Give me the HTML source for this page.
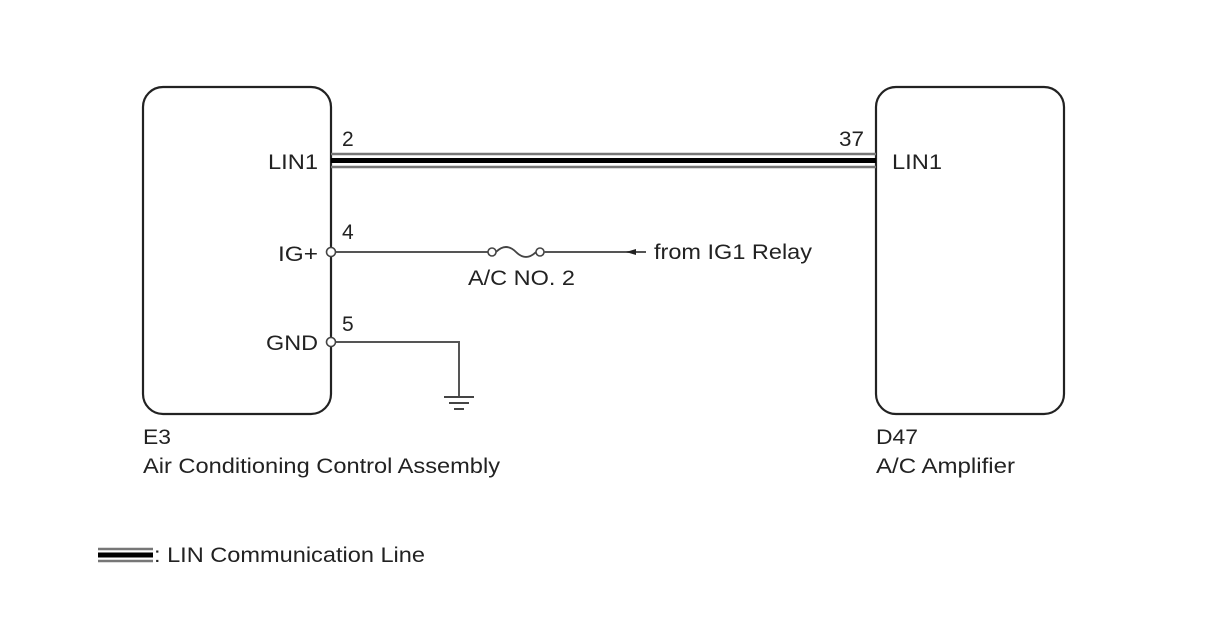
<!DOCTYPE html>
<html><head><meta charset="utf-8"><style>
html,body{margin:0;padding:0;background:#fff;}
svg{display:block;}
text{font-family:"Liberation Sans",Arial,sans-serif;font-size:21px;fill:#222;}
</style></head><body>
<svg width="1208" height="644" viewBox="0 0 1208 644" xmlns="http://www.w3.org/2000/svg">
<rect x="143" y="87" width="188" height="327" rx="20" fill="none" stroke="#222" stroke-width="2.2"/>
<rect x="876" y="87" width="188" height="327" rx="20" fill="none" stroke="#222" stroke-width="2.2"/>
<!-- LIN line -->
<line x1="331" y1="154" x2="876" y2="154" stroke="#777" stroke-width="2.5"/>
<line x1="331" y1="160.5" x2="876" y2="160.5" stroke="#000" stroke-width="5"/>
<line x1="331" y1="167" x2="876" y2="167" stroke="#777" stroke-width="2.5"/>
<text x="342" y="146">2</text>
<text x="839" y="146" textLength="25" lengthAdjust="spacingAndGlyphs">37</text>
<text x="318" y="169" text-anchor="end" textLength="50" lengthAdjust="spacingAndGlyphs">LIN1</text>
<text x="892" y="169" textLength="50" lengthAdjust="spacingAndGlyphs">LIN1</text>
<!-- IG+ -->
<line x1="335" y1="252" x2="488" y2="252" stroke="#555" stroke-width="2"/>
<circle cx="492" cy="252" r="4" fill="#fff" stroke="#444" stroke-width="1.6"/>
<path d="M496 252 Q506 242 516 252 Q526 262 536 252" fill="none" stroke="#444" stroke-width="1.8"/>
<circle cx="540" cy="252" r="4" fill="#fff" stroke="#444" stroke-width="1.6"/>
<line x1="544" y1="252" x2="646" y2="252" stroke="#555" stroke-width="2"/>
<polygon points="626,252 636,249 636,255" fill="#222"/>
<circle cx="331" cy="252" r="4.5" fill="#fff" stroke="#444" stroke-width="1.6"/>
<text x="342" y="239">4</text>
<text x="318" y="261" text-anchor="end" textLength="40" lengthAdjust="spacingAndGlyphs">IG+</text>
<text x="468" y="285" textLength="107" lengthAdjust="spacingAndGlyphs">A/C NO. 2</text>
<text x="654" y="259" textLength="158" lengthAdjust="spacingAndGlyphs">from IG1 Relay</text>
<!-- GND -->
<polyline points="335,342 459,342 459,397" fill="none" stroke="#555" stroke-width="2"/>
<line x1="444" y1="397" x2="474" y2="397" stroke="#444" stroke-width="2"/>
<line x1="449" y1="403" x2="469" y2="403" stroke="#444" stroke-width="2"/>
<line x1="454" y1="409" x2="464" y2="409" stroke="#444" stroke-width="2"/>
<circle cx="331" cy="342" r="4.5" fill="#fff" stroke="#444" stroke-width="1.6"/>
<text x="342" y="331">5</text>
<text x="318" y="350" text-anchor="end" textLength="52" lengthAdjust="spacingAndGlyphs">GND</text>
<!-- labels -->
<text x="143" y="444" textLength="28" lengthAdjust="spacingAndGlyphs">E3</text>
<text x="143" y="473" textLength="357" lengthAdjust="spacingAndGlyphs">Air Conditioning Control Assembly</text>
<text x="876" y="444" textLength="42" lengthAdjust="spacingAndGlyphs">D47</text>
<text x="876" y="473" textLength="139" lengthAdjust="spacingAndGlyphs">A/C Amplifier</text>
<!-- legend -->
<line x1="98" y1="549" x2="153" y2="549" stroke="#777" stroke-width="2.5"/>
<line x1="98" y1="555" x2="153" y2="555" stroke="#000" stroke-width="5"/>
<line x1="98" y1="561" x2="153" y2="561" stroke="#777" stroke-width="2.5"/>
<text x="154" y="562" textLength="271" lengthAdjust="spacingAndGlyphs">: LIN Communication Line</text>
</svg>
</body></html>
